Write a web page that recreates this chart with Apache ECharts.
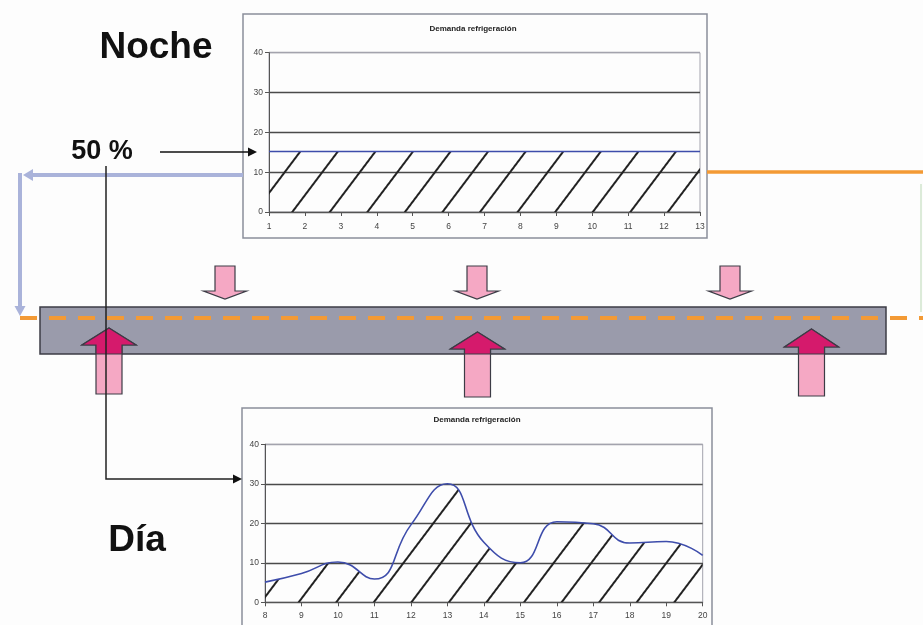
<!DOCTYPE html>
<html>
<head>
<meta charset="utf-8">
<script src="https://cdn.jsdelivr.net/npm/echarts@6/dist/echarts.min.js"></script>
<style>
  html, body { margin: 0; padding: 0; background: #fdfdfd; }
  #chart { width: 923px; height: 625px; }
</style>
</head>
<body>
<div id="chart"></div>
<script>
// Night: flat cooling demand (hours 1..13)
const nightHours = ['1', '2', '3', '4', '5', '6', '7', '8', '9', '10', '11', '12', '13'];
const nightDemand = [15.2, 15.2, 15.2, 15.2, 15.2, 15.2, 15.2, 15.2, 15.2, 15.2, 15.2, 15.2, 15.2];

// Day: variable cooling demand (hours 8..20)
const dayHours = ['8', '9', '10', '11', '12', '13', '14', '15', '16', '17', '18', '19', '20'];
const dayDemand = [5.1, 7.3, 10.2, 5.9, 19.6, 30.0, 15.2, 10.0, 20.4, 19.9, 15.0, 15.4, 11.9];

// Shared value axis
const demandMin = 0;
const demandMax = 40;
const demandStep = 10;

const chartTitle = 'Demanda refrigeración';
const nightLabel = 'Noche';
const dayLabel = 'Día';
const shareLabel = '50 %';

const FONT = '"Liberation Sans", Arial, sans-serif';
const LINE_BLUE = '#3e4dab';
const PINK = '#f5a8c4';
const MAGENTA = '#d51a6c';
const ORANGE = '#f39a35';
const EDGE = '#3c3c46';

// diagonal hatching under the demand curves
const hatch = {
  symbol: 'rect',
  symbolSize: 1,
  color: '#222',
  dashArrayX: [1, 0],
  dashArrayY: [1.2, 28],
  rotation: -53 * Math.PI / 180
};

function xAxisFor(gridIndex, data, margin) {
  return {
    gridIndex: gridIndex,
    type: 'category',
    data: data,
    boundaryGap: false,
    axisLine: { lineStyle: { color: '#555', width: 1 } },
    axisTick: { show: true, interval: 0, length: 4, lineStyle: { color: '#555' } },
    axisLabel: { interval: 0, fontSize: 8.5, color: '#444', margin: margin, fontFamily: FONT },
    splitLine: { show: false }
  };
}

function yAxisFor(gridIndex) {
  return {
    gridIndex: gridIndex,
    type: 'value',
    min: demandMin,
    max: demandMax,
    interval: demandStep,
    axisLine: { show: true, lineStyle: { color: '#555', width: 1 } },
    axisTick: { show: true, length: 4, lineStyle: { color: '#555' } },
    axisLabel: { fontSize: 8.5, color: '#444', margin: 6, fontFamily: FONT },
    splitLine: { lineStyle: { color: ['#555', '#4a4a4a', '#4a4a4a', '#4a4a4a', '#a3a3ad'], width: 1.3 } }
  };
}

function demandSeries(idx, data, smooth) {
  return {
    type: 'line',
    xAxisIndex: idx,
    yAxisIndex: idx,
    data: data,
    smooth: smooth,
    showSymbol: false,
    symbol: 'none',
    lineStyle: { color: LINE_BLUE, width: 1.6 },
    itemStyle: { color: LINE_BLUE, decal: hatch },
    areaStyle: { color: 'rgba(255,255,255,0)', opacity: 1 },
    z: 3
  };
}

// Block arrows on the slab
function downArrow(cx) {
  const top = 266, neck = 291, tip = 299, hs = 10, hh = 21.5;
  return {
    type: 'polygon',
    shape: { points: [[cx - hs, top], [cx + hs, top], [cx + hs, neck], [cx + hh, neck], [cx, tip], [cx - hh, neck], [cx - hs, neck]] },
    style: { fill: PINK, stroke: EDGE, lineWidth: 1.2 }
  };
}

function upArrow(cx, tip, neck, bottom, slabBottom) {
  const hs = 13, hh = 27;
  return [
    {
      type: 'polygon',
      shape: { points: [[cx, tip], [cx + hh, neck], [cx + hs, neck], [cx + hs, bottom], [cx - hs, bottom], [cx - hs, neck], [cx - hh, neck]] },
      style: { fill: PINK, stroke: EDGE, lineWidth: 1.2 }
    },
    {
      type: 'polygon',
      shape: { points: [[cx, tip], [cx + hh, neck], [cx + hs, neck], [cx + hs, slabBottom], [cx - hs, slabBottom], [cx - hs, neck], [cx - hh, neck]] },
      style: { fill: MAGENTA, stroke: EDGE, lineWidth: 1.2 }
    }
  ];
}

function headRight(x, y, c) {
  return { type: 'polygon', shape: { points: [[x, y], [x - 9, y - 4.5], [x - 9, y + 4.5]] }, style: { fill: c } };
}

const slabTop = 307, slabBottom = 354;

const graphics = [
  // chart frames
  { type: 'rect', shape: { x: 243, y: 14, width: 464, height: 224 }, style: { fill: 'none', stroke: '#8b8e9b', lineWidth: 1.5 } },
  { type: 'rect', shape: { x: 242, y: 408, width: 470, height: 240 }, style: { fill: 'none', stroke: '#8b8e9b', lineWidth: 1.5 } },
  // titles inside frames
  { type: 'text', x: 473, y: 29, style: { text: chartTitle, font: 'bold 8px ' + FONT, fill: '#222', textAlign: 'center', textVerticalAlign: 'middle' } },
  { type: 'text', x: 477, y: 420, style: { text: chartTitle, font: 'bold 8px ' + FONT, fill: '#222', textAlign: 'center', textVerticalAlign: 'middle' } },
  // big labels
  { type: 'text', x: 156, y: 48, style: { text: nightLabel, font: 'bold 37px ' + FONT, fill: '#111', textAlign: 'center', textVerticalAlign: 'middle' } },
  { type: 'text', x: 137, y: 541, style: { text: dayLabel, font: 'bold 37px ' + FONT, fill: '#111', textAlign: 'center', textVerticalAlign: 'middle' } },
  { type: 'text', x: 102, y: 152, style: { text: shareLabel, font: 'bold 27px ' + FONT, fill: '#111', textAlign: 'center', textVerticalAlign: 'middle' } },
  // night return (light blue) arrow
  { type: 'polyline', shape: { points: [[243, 175], [30, 175]] }, style: { stroke: '#aab3da', lineWidth: 4 } },
  { type: 'polygon', shape: { points: [[23, 175], [33, 169], [33, 181]] }, style: { fill: '#aab3da' } },
  { type: 'polyline', shape: { points: [[20, 173], [20, 308]] }, style: { stroke: '#aab3da', lineWidth: 4 } },
  { type: 'polygon', shape: { points: [[20, 316], [14.5, 306], [25.5, 306]] }, style: { fill: '#aab3da' } },
  // orange line from the night chart
  { type: 'polyline', shape: { points: [[707, 172], [923, 172]] }, style: { stroke: ORANGE, lineWidth: 3.5 } },
  { type: 'polyline', shape: { points: [[921, 184], [921, 312]] }, style: { stroke: '#dcebd9', lineWidth: 2 } },
  // slab
  { type: 'rect', shape: { x: 40, y: slabTop, width: 846, height: slabBottom - slabTop }, style: { fill: '#9a9bab', stroke: EDGE, lineWidth: 1.5 } },
  downArrow(225), downArrow(477), downArrow(730)
].concat(
  upArrow(109, 328, 345, 394, slabBottom),
  upArrow(477.5, 332, 349, 397, slabBottom),
  upArrow(811.5, 329, 347, 396, slabBottom),
  [
    // orange dashed level line across the slab
    { type: 'polyline', shape: { points: [[20, 318], [923, 318]] }, style: { stroke: ORANGE, lineWidth: 4, lineDash: [17, 12] } },
    // black pointer to the night chart
    { type: 'polyline', shape: { points: [[160, 152], [249, 152]] }, style: { stroke: '#111', lineWidth: 1.5 } },
    headRight(257, 152, '#111'),
    // black pointer to the day chart
    { type: 'polyline', shape: { points: [[106, 166], [106, 479], [234, 479]] }, style: { stroke: '#222', lineWidth: 1.5 } },
    headRight(242, 479, '#111')
  ]
);

const chart = echarts.init(document.getElementById('chart'), null, { renderer: 'canvas' });
chart.setOption({
  backgroundColor: '#fdfdfd',
  animation: false,
  grid: [
    { left: 269, right: 223, top: 52.7, bottom: 413, show: true, borderColor: '#a3a3ad', borderWidth: 1 },
    { left: 265, right: 220.3, top: 444.3, bottom: 22.7, show: true, borderColor: '#a3a3ad', borderWidth: 1 }
  ],
  xAxis: [xAxisFor(0, nightHours, 10), xAxisFor(1, dayHours, 9)],
  yAxis: [yAxisFor(0), yAxisFor(1)],
  series: [demandSeries(0, nightDemand, false), demandSeries(1, dayDemand, 0.5)],
  graphic: { elements: graphics }
});
</script>
</body>
</html>
